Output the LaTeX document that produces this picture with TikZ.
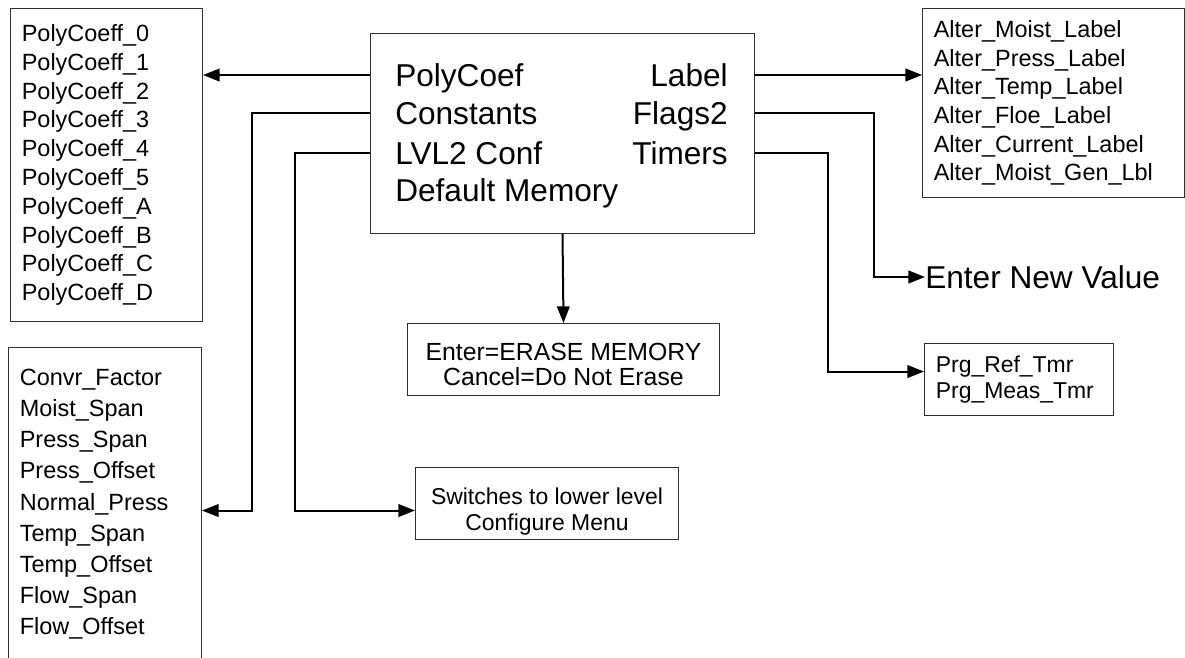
\documentclass[tikz,border=0pt]{standalone}
\usepackage{fontspec}
\setmainfont{Liberation Sans}
\usepackage{xcolor}
\usetikzlibrary{arrows.meta,positioning,calc}
\definecolor{frame}{HTML}{303030}
\definecolor{ink}{HTML}{000000}
\tikzset{
  listbox/.style={draw=frame, line width=0.75pt, anchor=north west, align=left,
                  inner xsep=8.5pt, inner ysep=0pt, text=ink,
                  font=\fontsize{17.6}{21.6}\selectfont},
  notebox/.style={draw=frame, line width=0.75pt, anchor=north west, inner sep=0pt},
  notetext/.style={align=center, inner sep=0pt, text=ink,
                   font=\fontsize{17.2}{19.5}\selectfont},
  menuitem/.style={inner sep=0pt, text height=17pt, text depth=0pt, text=ink,
                   font=\fontsize{23.7}{28.5}\selectfont},
  link/.style={line width=1.5pt, draw=ink, -{Triangle[length=12.5pt,width=9.5pt]}}
}
\begin{document}
\begin{tikzpicture}[x=0.75pt,y=-0.75pt]
  \clip (0,0) rectangle (1185,657);
  \fill[white] (0,0) rectangle (1185,657);

  % main menu
  \node[draw=frame, line width=0.75pt, anchor=north west, minimum width=288pt,
        minimum height=150pt, inner sep=0pt] (menu) at (370,33) {};
  \node[menuitem, anchor=west] (polycoef)  at (395,75)  {PolyCoef};
  \node[menuitem, anchor=west] (constants) at (395,113) {Constants};
  \node[menuitem, anchor=west] (lvlconf)   at (395,153) {LVL2 Conf};
  \node[menuitem, anchor=west] (defmem)    at (395,190) {Default Memory};
  \node[menuitem, anchor=east] (label)     at (728,75)  {Label};
  \node[menuitem, anchor=east] (flags)     at (728,113) {Flags2};
  \node[menuitem, anchor=east] (timers)    at (728,153) {Timers};

  % sub menus
  \node[listbox, text width=127pt, minimum height=234.75pt] (coeffs) at (10,8)
    {PolyCoeff\_0\\PolyCoeff\_1\\PolyCoeff\_2\\PolyCoeff\_3\\PolyCoeff\_4\\
     PolyCoeff\_5\\PolyCoeff\_A\\PolyCoeff\_B\\PolyCoeff\_C\\PolyCoeff\_D};
  \node[listbox, text width=127.75pt, minimum height=235pt,
        font=\fontsize{17.6}{23.4}\selectfont] (consts) at (8,347)
    {Convr\_Factor\\Moist\_Span\\Press\_Span\\Press\_Offset\\Normal\_Press\\
     Temp\_Span\\Temp\_Offset\\Flow\_Span\\Flow\_Offset};
  \node[listbox, text width=179.5pt, minimum height=141.75pt,
        font=\fontsize{17.6}{21.45}\selectfont] (labels) at (922,8)
    {Alter\_Moist\_Label\\Alter\_Press\_Label\\Alter\_Temp\_Label\\
     Alter\_Floe\_Label\\Alter\_Current\_Label\\Alter\_Moist\_Gen\_Lbl};
  \node[listbox, text width=124.75pt, minimum height=54pt,
        font=\fontsize{17.2}{20}\selectfont] (tmrbox) at (924,343)
    {Prg\_Ref\_Tmr\\Prg\_Meas\_Tmr};

  % message boxes
  \node[notebox, minimum width=234pt, minimum height=54pt] (erase) at (407,323) {};
  \node[notetext, font=\fontsize{18.6}{18.8}\selectfont] (erasemsg)
    at ([yshift=-3.4pt]erase.center) {Enter=ERASE MEMORY\\Cancel=Do Not Erase};
  \node[notebox, minimum width=197.25pt, minimum height=54pt] (lower) at (415,467) {};
  \node[notetext] (lowermsg) at ([yshift=-6.3pt]lower.center)
    {Switches to lower level\\Configure Menu};
  \node[menuitem, anchor=west] (newval) at (925,277) {Enter New Value};

  \coordinate (tap) at ([yshift=-5.25pt]lower.west);

  % connectors
  \draw[link] (polycoef -| menu.west) -- (coeffs.east |- polycoef);
  \draw[link] (constants -| menu.west) -- ++(-118,0) |- (consts.east |- tap);
  \draw[link] (lvlconf -| menu.west) -- ++(-75,0) |- (tap);
  \draw[link] (menu.south) -- (erase.north);
  \draw[link] (label -| menu.east) -- (labels.west |- label);
  \draw[link] (flags -| menu.east) -- ++(119,0) |- (newval.west);
  \draw[link] (timers -| menu.east) -- ++(73,0) |- ([yshift=6pt]tmrbox.west);
\end{tikzpicture}
\end{document}
